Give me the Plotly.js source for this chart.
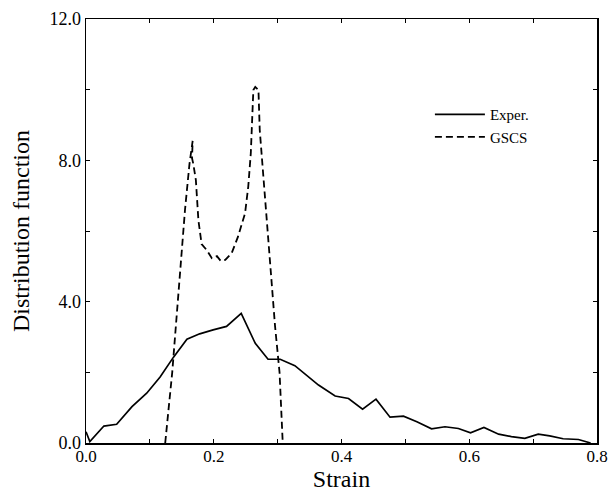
<!DOCTYPE html>
<html>
<head>
<meta charset="utf-8">
<script src="https://cdn.plot.ly/plotly-3.0.1.min.js"></script>
<style>html,body{margin:0;padding:0;background:#fff;}#chart{width:612px;height:492px;}</style>
</head>
<body>
<div id="chart"></div>
<script>
// Experimental distribution
const experStrain = [0.0, 0.006, 0.028, 0.048, 0.072, 0.095, 0.116, 0.137, 0.158, 0.178, 0.199, 0.220, 0.243, 0.265, 0.285, 0.304, 0.327, 0.345, 0.364, 0.390, 0.411, 0.433, 0.454, 0.476, 0.497, 0.518, 0.541, 0.562, 0.583, 0.602, 0.623, 0.646, 0.666, 0.687, 0.708, 0.726, 0.747, 0.771, 0.790];
const experValue  = [0.32, 0.04, 0.48, 0.53, 1.03, 1.41, 1.87, 2.43, 2.94, 3.09, 3.20, 3.30, 3.67, 2.82, 2.37, 2.37, 2.19, 1.92, 1.64, 1.33, 1.26, 0.96, 1.24, 0.73, 0.76, 0.60, 0.40, 0.46, 0.41, 0.29, 0.44, 0.25, 0.18, 0.13, 0.25, 0.20, 0.12, 0.10, 0.0];
// GSCS model distribution
const gscsStrain = [0.124, 0.135, 0.145, 0.155, 0.162, 0.167, 0.166, 0.168, 0.172, 0.176, 0.181, 0.189, 0.197, 0.205, 0.211, 0.218, 0.228, 0.238, 0.249, 0.254, 0.258, 0.262, 0.265, 0.270, 0.272, 0.278, 0.283, 0.288, 0.291, 0.296, 0.303, 0.308];
const gscsValue  = [0.0, 2.0, 4.3, 6.6, 7.9, 8.55, 8.06, 7.9, 7.44, 6.3, 5.63, 5.46, 5.23, 5.29, 5.15, 5.18, 5.37, 5.84, 6.50, 7.25, 8.2, 9.99, 10.08, 9.99, 8.86, 7.44, 6.31, 4.99, 4.38, 3.3, 2.0, 0.0];
// Ticks (every tick position, labels only on the major ones)
const xTickVals = [0.0, 0.1, 0.2, 0.3, 0.4, 0.5, 0.6, 0.7, 0.8];
const xTickText = ['0.0', '', '0.2', '', '0.4', '', '0.6', '', '0.8'];
const yTickVals = [0, 2, 4, 6, 8, 10, 12];
const yTickText = ['0.0', '', '4.0', '', '8.0', '', '12.0'];

const serif = "Liberation Serif";
const traces = [
  {x: experStrain, y: experValue, mode: 'lines', name: 'Exper.',
   line: {color: '#000', width: 1.7, dash: 'solid'}},
  {x: gscsStrain, y: gscsValue, mode: 'lines', name: 'GSCS',
   line: {color: '#000', width: 1.8, dash: '7px,4px'}}
];
const layout = {
  width: 612, height: 492,
  font: {family: serif, size: 18, color: '#000'},
  margin: {l: 86, r: 15, t: 19, b: 49},
  paper_bgcolor: '#fff', plot_bgcolor: '#fff',
  showlegend: true,
  legend: {x: 0.673, y: 0.8135, xanchor: 'left', yanchor: 'top', bgcolor: 'rgba(0,0,0,0)',
           itemwidth: 50,
           font: {family: serif, size: 15, color: '#000'}, tracegroupgap: 0},
  xaxis: {
    range: [0, 0.8], tickmode: 'array', tickvals: xTickVals, ticktext: xTickText,
    tickfont: {family: serif, size: 17, color: '#000'}, ticklabelstandoff: -3,
    showgrid: false, zeroline: false, showline: true, linecolor: '#000', linewidth: 1.5,
    mirror: 'ticks', ticks: 'inside', ticklen: 4, tickwidth: 1, tickcolor: '#000',
    title: {text: 'Strain', font: {family: serif, size: 24, color: '#000'}, standoff: 6}
  },
  yaxis: {
    range: [0, 12], tickmode: 'array', tickvals: yTickVals, ticktext: yTickText,
    tickfont: {family: serif, size: 18, color: '#000'},
    showgrid: false, zeroline: false, showline: true, linecolor: '#000', linewidth: 1.5,
    mirror: 'ticks', ticks: 'inside', ticklen: 4, tickwidth: 1, tickcolor: '#000',
    title: {text: 'Distribution function', font: {family: serif, size: 24, color: '#000'}, standoff: 13}
  }
};
Plotly.newPlot('chart', traces, layout, {displayModeBar: false, staticPlot: true});
</script>
</body>
</html>
